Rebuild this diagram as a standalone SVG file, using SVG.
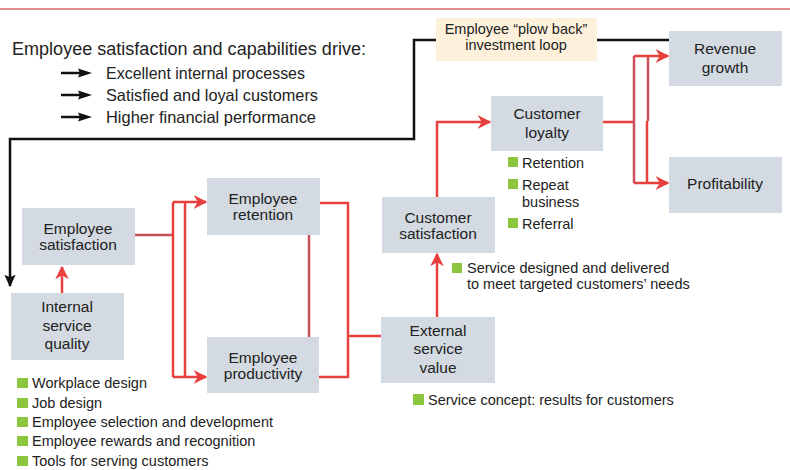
<svg xmlns="http://www.w3.org/2000/svg" width="790" height="470" viewBox="0 0 790 470">
<defs>
<style>
.box{fill:#d3dae1}
.lbl{font-family:"Liberation Sans",Arial,sans-serif;font-size:15.5px;fill:#222;text-anchor:middle}
.txt{font-family:"Liberation Sans",Arial,sans-serif;font-size:14.5px;fill:#222}
.sm{font-family:"Liberation Sans",Arial,sans-serif;font-size:14.5px;fill:#222}
.bul{fill:#8cc63e}
.red{fill:none;stroke:#e8403f;stroke-width:2.5}
.redd{fill:none;stroke:#c8505a;stroke-width:2.5}
.blk{fill:none;stroke:#111;stroke-width:2.5}
</style>
<marker id="ar" viewBox="0 0 10 10" refX="9" refY="5" markerWidth="5.5" markerHeight="5.5" orient="auto" markerUnits="strokeWidth">
<path d="M0,0 L10,5 L0,10 L3,5 z" fill="#e8403f"/>
</marker>
<marker id="ab" viewBox="0 0 10 10" refX="9" refY="5" markerWidth="5" markerHeight="5" orient="auto" markerUnits="strokeWidth">
<path d="M0,0.5 L10,5 L0,9.5 L2,5 z" fill="#111"/>
</marker>
<path id="bar" d="M0,-1.25 H20 V1.25 H0 z M17,-4.5 L31,0 L17,4.5 L19,0 z" fill="#111"/>
</defs>
<rect width="790" height="470" fill="#fff"/>
<line x1="0" y1="9" x2="790" y2="9" stroke="#d46a6a" stroke-width="1.5"/>

<g id="intro">
<text x="12" y="55" font-family="Liberation Sans,Arial,sans-serif" font-size="17.5" fill="#222" textLength="354" lengthAdjust="spacingAndGlyphs">Employee satisfaction and capabilities drive:</text>
<use href="#bar" x="61" y="73"/>
<use href="#bar" x="61" y="95"/>
<use href="#bar" x="61" y="117"/>
<text x="106" y="79" font-family="Liberation Sans,Arial,sans-serif" font-size="16.5" fill="#222" textLength="199" lengthAdjust="spacingAndGlyphs">Excellent internal processes</text>
<text x="106" y="101" font-family="Liberation Sans,Arial,sans-serif" font-size="16.5" fill="#222" textLength="212" lengthAdjust="spacingAndGlyphs">Satisfied and loyal customers</text>
<text x="106" y="123" font-family="Liberation Sans,Arial,sans-serif" font-size="16.5" fill="#222" textLength="210" lengthAdjust="spacingAndGlyphs">Higher financial performance</text>
</g>

<g id="connectors">
<!-- plow back loop -->
<polyline class="blk" points="669,40 597,40"/>
<polyline class="blk" points="436,40 414,40 414,139 10,139 10,286" marker-end="url(#ab)"/>
<!-- internal -> satisfaction -->
<line class="red" x1="62" y1="293" x2="62" y2="267" marker-end="url(#ar)"/>
<!-- satisfaction -> split -->
<line class="redd" x1="135" y1="235" x2="173" y2="235"/>
<line class="red" x1="173" y1="202" x2="173" y2="377"/>
<line class="red" x1="185" y1="202" x2="185" y2="377"/>
<line class="red" x1="173" y1="202" x2="206" y2="202" marker-end="url(#ar)"/>
<line class="red" x1="173" y1="377" x2="206" y2="377" marker-end="url(#ar)"/>
<!-- retention - productivity -->
<line class="redd" x1="309" y1="235" x2="309" y2="337"/>
<!-- to external value -->
<polyline class="red" points="320,203 348,203 348,377 319,377"/>
<line class="red" x1="348" y1="336" x2="381" y2="336"/>
<!-- external -> customer satisfaction -->
<line class="red" x1="437" y1="317" x2="437" y2="254" marker-end="url(#ar)"/>
<!-- customer sat -> loyalty -->
<polyline class="red" points="437,197 437,122 490,122" marker-end="url(#ar)"/>
<!-- loyalty -> split -->
<line class="red" x1="603" y1="122" x2="634" y2="122"/>
<line class="redd" x1="634" y1="56" x2="634" y2="183"/>
<line class="redd" x1="648" y1="56" x2="648" y2="121"/>
<line class="red" x1="647" y1="121" x2="647" y2="183"/>
<line class="red" x1="634" y1="56" x2="668" y2="56" marker-end="url(#ar)"/>
<line class="red" x1="634" y1="183" x2="668" y2="183" marker-end="url(#ar)"/>
</g>

<g id="plowback">
<rect x="436" y="18" width="161" height="43" fill="#fdf1dc"/>
<text x="516" y="34" class="sm" text-anchor="middle">Employee “plow back”</text>
<text x="516" y="50" class="sm" text-anchor="middle">investment loop</text>
</g>

<g id="employee-satisfaction">
<rect class="box" x="22" y="208" width="113" height="57"/>
<text class="lbl" x="78" y="234">Employee</text>
<text class="lbl" x="78" y="250">satisfaction</text>
</g>

<g id="internal-service-quality">
<rect class="box" x="11" y="293" width="113" height="67"/>
<text class="lbl" x="67" y="312">Internal</text>
<text class="lbl" x="67" y="331">service</text>
<text class="lbl" x="67" y="349">quality</text>
</g>

<g id="employee-retention">
<rect class="box" x="207" y="178" width="113" height="57"/>
<text class="lbl" x="263" y="204">Employee</text>
<text class="lbl" x="263" y="220">retention</text>
</g>

<g id="employee-productivity">
<rect class="box" x="207" y="337" width="112" height="56"/>
<text class="lbl" x="263" y="363">Employee</text>
<text class="lbl" x="263" y="379">productivity</text>
</g>

<g id="customer-satisfaction">
<rect class="box" x="382" y="197" width="113" height="56"/>
<text class="lbl" x="438" y="223">Customer</text>
<text class="lbl" x="438" y="239">satisfaction</text>
</g>

<g id="external-service-value">
<rect class="box" x="381" y="317" width="114" height="66"/>
<text class="lbl" x="438" y="336">External</text>
<text class="lbl" x="438" y="354">service</text>
<text class="lbl" x="438" y="373">value</text>
</g>

<g id="customer-loyalty">
<rect class="box" x="491" y="96" width="112" height="55"/>
<text class="lbl" x="547" y="119">Customer</text>
<text class="lbl" x="547" y="138">loyalty</text>
</g>

<g id="revenue-growth">
<rect class="box" x="669" y="31" width="113" height="55"/>
<text class="lbl" x="725" y="54">Revenue</text>
<text class="lbl" x="725" y="73">growth</text>
</g>

<g id="profitability">
<rect class="box" x="669" y="157" width="113" height="56"/>
<text class="lbl" x="725" y="189">Profitability</text>
</g>

<g id="loyalty-bullets">
<rect class="bul" x="508" y="157" width="10" height="10"/>
<text class="txt" x="522" y="168">Retention</text>
<rect class="bul" x="508" y="179" width="10" height="10"/>
<text class="txt" x="522" y="190">Repeat</text>
<text class="txt" x="522" y="207">business</text>
<rect class="bul" x="508" y="218" width="10" height="10"/>
<text class="txt" x="522" y="229">Referral</text>
</g>

<g id="service-designed">
<rect class="bul" x="452" y="263" width="10" height="10"/>
<text class="sm" x="467" y="273">Service designed and delivered</text>
<text class="sm" x="467" y="289">to meet targeted customers’ needs</text>
</g>

<g id="service-concept">
<rect class="bul" x="413" y="394" width="11" height="11"/>
<text class="sm" x="428" y="405">Service concept: results for customers</text>
</g>

<g id="internal-bullets">
<rect class="bul" x="17" y="378" width="11" height="10"/>
<text class="txt" x="32" y="388">Workplace design</text>
<rect class="bul" x="17" y="398" width="11" height="10"/>
<text class="txt" x="32" y="408">Job design</text>
<rect class="bul" x="17" y="417" width="11" height="10"/>
<text class="txt" x="32" y="427">Employee selection and development</text>
<rect class="bul" x="17" y="436" width="11" height="10"/>
<text class="txt" x="32" y="446">Employee rewards and recognition</text>
<rect class="bul" x="17" y="456" width="11" height="10"/>
<text class="txt" x="32" y="466">Tools for serving customers</text>
</g>
</svg>
